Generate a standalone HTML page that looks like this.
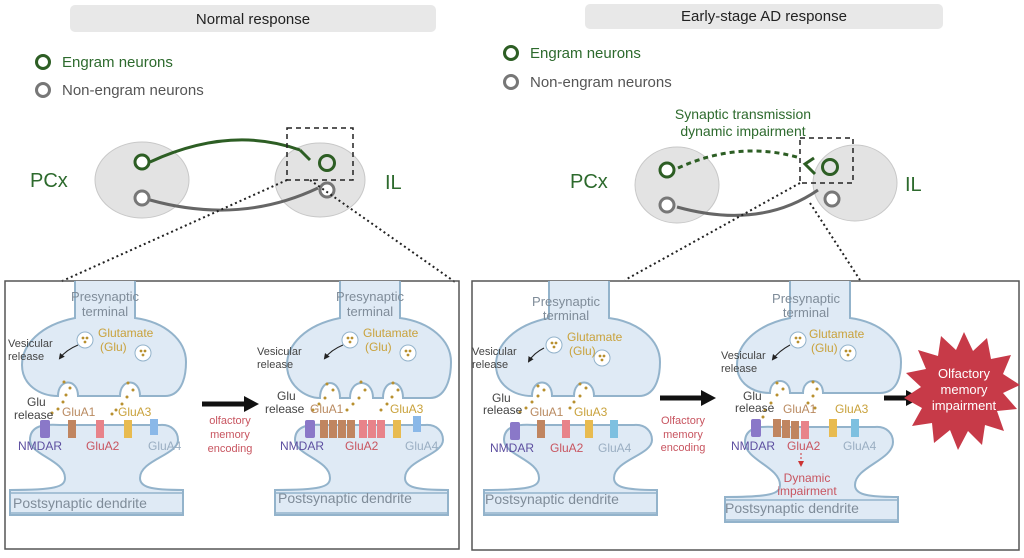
<!DOCTYPE html>
<html><head><meta charset="utf-8"><style>
html,body{margin:0;padding:0;background:#fff;}
svg{display:block;font-family:"Liberation Sans",sans-serif;}
.pre{fill:#dfeaf5;stroke:#93b3cb;stroke-width:2}
.band{fill:#dfeaf5;stroke:none}
.bl{stroke:#93b3cb;stroke-width:1.5;fill:none}
.t13{font-size:13px}
.gy{fill:#7f8c99}.gl{fill:#c9a23c}.dk{fill:#444}.pu{fill:#5d4fa0}.rd{fill:#c85560}.bg{fill:#9aaec2}.br{fill:#b98a60}
.dot{fill:#b8902f}
</style></head><body>
<svg width="1024" height="558" viewBox="0 0 1024 558" xmlns="http://www.w3.org/2000/svg">
<defs><marker id="ah" markerWidth="6" markerHeight="6" refX="4" refY="3" orient="auto"><path d="M0,0 L6,3 L0,6Z" fill="#222"/></marker>
<marker id="ar" markerWidth="6" markerHeight="6" refX="4" refY="3" orient="auto"><path d="M0,0 L6,3 L0,6Z" fill="#c33"/></marker></defs>

<!-- headers -->
<rect x="70" y="5" width="366" height="27" rx="5" fill="#e8e8e8"/>
<text x="253" y="24" text-anchor="middle" font-size="15" fill="#222">Normal response</text>
<rect x="585" y="4" width="358" height="25" rx="5" fill="#e8e8e8"/>
<text x="764" y="21" text-anchor="middle" font-size="15" fill="#222">Early-stage AD response</text>

<!-- legends -->
<circle cx="43" cy="62" r="6.5" fill="none" stroke="#2d5e24" stroke-width="3"/>
<text x="62" y="67" font-size="15" fill="#2d6a2d">Engram neurons</text>
<circle cx="43" cy="90" r="6.5" fill="none" stroke="#777" stroke-width="3"/>
<text x="62" y="95" font-size="15" fill="#555">Non-engram neurons</text>
<circle cx="511" cy="53" r="6.5" fill="none" stroke="#2d5e24" stroke-width="3"/>
<text x="530" y="58" font-size="15" fill="#2d6a2d">Engram neurons</text>
<circle cx="511" cy="82" r="6.5" fill="none" stroke="#777" stroke-width="3"/>
<text x="530" y="87" font-size="15" fill="#555">Non-engram neurons</text>

<!-- left brain -->
<ellipse cx="142" cy="180" rx="47" ry="38" fill="#e3e3e3" stroke="#c8c8c8"/>
<ellipse cx="320" cy="180" rx="45" ry="37" fill="#e3e3e3" stroke="#c8c8c8"/>
<text x="30" y="187" font-size="20" fill="#2d6a2d">PCx</text>
<text x="385" y="189" font-size="20" fill="#2d6a2d">IL</text>
<path d="M150,162 Q230,125 300,150" stroke="#2d5e24" stroke-width="3" fill="none"/>
<path d="M300,150 L310,160" stroke="#2d5e24" stroke-width="3"/>
<path d="M150,200 Q240,225 318,188" stroke="#666" stroke-width="3" fill="none"/>
<circle cx="142" cy="162" r="7" fill="#fff" stroke="#2d5e24" stroke-width="3"/>
<circle cx="142" cy="198" r="7" fill="#fff" stroke="#777" stroke-width="3"/>
<circle cx="327" cy="163" r="7.5" fill="none" stroke="#2d5e24" stroke-width="3"/>
<circle cx="327" cy="190" r="7" fill="#fff" stroke="#777" stroke-width="3"/>
<rect x="287" y="128" width="66" height="52" fill="none" stroke="#222" stroke-width="1.5" stroke-dasharray="5,4"/>
<path d="M287,180 L60,282" stroke="#222" stroke-width="2" stroke-dasharray="2,3"/>
<path d="M310,180 L455,282" stroke="#222" stroke-width="2" stroke-dasharray="2,3"/>

<!-- right brain -->
<ellipse cx="677" cy="185" rx="42" ry="38" fill="#e3e3e3" stroke="#c8c8c8"/>
<ellipse cx="855" cy="183" rx="42" ry="38" fill="#e3e3e3" stroke="#c8c8c8"/>
<text x="570" y="188" font-size="20" fill="#2d6a2d">PCx</text>
<text x="905" y="191" font-size="20" fill="#2d6a2d">IL</text>
<text x="743" y="119" text-anchor="middle" font-size="14" fill="#2d6a2d">Synaptic transmission</text>
<text x="743" y="136" text-anchor="middle" font-size="14" fill="#2d6a2d">dynamic impairment</text>
<path d="M678,168 Q740,140 800,158" stroke="#2d5e24" stroke-width="3" fill="none" stroke-dasharray="5,4"/>
<path d="M814,158 L805,164 L815,174" stroke="#2d5e24" stroke-width="3" fill="none"/>
<path d="M677,207 Q760,230 818,190" stroke="#666" stroke-width="3" fill="none"/>
<circle cx="667" cy="170" r="7" fill="#fff" stroke="#2d5e24" stroke-width="3"/>
<circle cx="667" cy="205" r="7" fill="#fff" stroke="#777" stroke-width="3"/>
<circle cx="830" cy="167" r="7.5" fill="none" stroke="#2d5e24" stroke-width="3"/>
<circle cx="832" cy="199" r="7" fill="#fff" stroke="#777" stroke-width="3"/>
<rect x="800" y="138" width="53" height="45" fill="none" stroke="#222" stroke-width="1.5" stroke-dasharray="5,4"/>
<path d="M800,183 L625,280" stroke="#222" stroke-width="2" stroke-dasharray="2,3"/>
<path d="M810,203 L860,280" stroke="#222" stroke-width="2" stroke-dasharray="2,3"/>

<!-- boxes -->
<rect x="5" y="281" width="454" height="268" fill="none" stroke="#555" stroke-width="1.5"/>
<rect x="472" y="281" width="547" height="269" fill="none" stroke="#555" stroke-width="1.5"/>

<!-- synapse 1 -->
<g>
<path class="pre" d="M75,281 L75,318 C40,325 22,345 22,365 C22,385 40,396 58,396 C58,378 78,378 78,396 L120,396 C120,378 140,378 140,396 L165,396 C180,396 186,380 186,362 C186,340 165,322 135,318 L135,281"/>
<path class="pre" d="M30,440 C30,425 45,424 60,425 L160,425 C172,424 178,432 178,440 C178,455 140,460 140,478 C140,487 150,490 183,490 L183,515 L10,515 L10,490 C55,490 65,487 65,478 C65,460 30,455 30,440 Z"/>
<path class="bl" d="M10,493 L183,493 M10,513 L183,513"/>
<circle cx="85" cy="340" r="8" fill="#fff" stroke="#93b3cb"/><circle cx="143" cy="353" r="8" fill="#fff" stroke="#93b3cb"/>
<circle class="dot" cx="83" cy="338" r="1.4"/><circle class="dot" cx="87" cy="338" r="1.4"/><circle class="dot" cx="85" cy="342" r="1.4"/>
<circle class="dot" cx="141" cy="351" r="1.4"/><circle class="dot" cx="145" cy="351" r="1.4"/><circle class="dot" cx="143" cy="355" r="1.4"/>
<g class="dot"><circle cx="64" cy="382" r="1.5"/><circle cx="70" cy="388" r="1.5"/><circle cx="66" cy="395" r="1.5"/><circle cx="63" cy="402" r="1.5"/><circle cx="58" cy="409" r="1.5"/><circle cx="52" cy="413" r="1.5"/>
<circle cx="128" cy="383" r="1.5"/><circle cx="133" cy="390" r="1.5"/><circle cx="127" cy="397" r="1.5"/><circle cx="122" cy="404" r="1.5"/><circle cx="116" cy="410" r="1.5"/><circle cx="112" cy="414" r="1.5"/></g>
<rect x="40" y="420" width="10" height="18" rx="2" fill="#8a78c8"/>
<rect x="68" y="420" width="8" height="18" fill="#c08560"/>
<rect x="96" y="420" width="8" height="18" fill="#e8838a"/>
<rect x="124" y="420" width="8" height="18" fill="#e8bb50"/>
<rect x="150" y="419" width="8" height="16" fill="#8ab8e8"/>
<text class="t13 gy" x="105" y="301" text-anchor="middle">Presynaptic</text>
<text class="t13 gy" x="105" y="316" text-anchor="middle">terminal</text>
<text x="98" y="337" font-size="12" class="gl">Glutamate</text><text x="100" y="351" font-size="12" class="gl">(Glu)</text>
<text x="8" y="347" font-size="11" class="dk">Vesicular</text><text x="8" y="360" font-size="11" class="dk">release</text>
<path d="M78,345 Q66,350 60,358" stroke="#222" stroke-width="1" fill="none" marker-end="url(#ah)"/>
<text x="27" y="406" font-size="12" class="dk">Glu</text><text x="14" y="419" font-size="12" class="dk">release</text>
<text x="62" y="416" font-size="12" class="br">GluA1</text><text x="118" y="416" font-size="12" class="gl">GluA3</text>
<text x="18" y="450" font-size="12" class="pu">NMDAR</text><text x="86" y="450" font-size="12" class="rd">GluA2</text><text x="148" y="450" font-size="12" class="bg">GluA4</text>
<text x="13" y="508" font-size="14" class="gy">Postsynaptic dendrite</text>
</g>

<!-- arrow 1 -->
<path d="M202,404 L246,404" stroke="#111" stroke-width="5"/><path d="M244,396 L259,404 L244,412Z" fill="#111"/>
<text x="230" y="424" text-anchor="middle" font-size="11" class="rd">olfactory</text>
<text x="230" y="438" text-anchor="middle" font-size="11" class="rd">memory</text>
<text x="230" y="452" text-anchor="middle" font-size="11" class="rd">encoding</text>

<!-- synapse 2 -->
<g transform="translate(265,0)">
<path class="pre" d="M75,281 L75,318 C40,325 22,345 22,365 C22,385 40,398 55,398 C55,378 75,378 75,398 L85,398 C85,378 108,378 108,398 L118,398 C118,378 138,378 138,398 L165,398 C180,398 186,380 186,362 C186,340 165,322 135,318 L135,281"/>
<path class="pre" d="M30,440 C30,425 45,424 60,425 L160,425 C172,424 178,432 178,440 C178,455 140,460 140,478 C140,487 150,490 183,490 L183,515 L10,515 L10,490 C55,490 65,487 65,478 C65,460 30,455 30,440 Z"/>
<path class="bl" d="M10,493 L183,493 M10,513 L183,513"/>
<circle cx="85" cy="340" r="8" fill="#fff" stroke="#93b3cb"/><circle cx="143" cy="353" r="8" fill="#fff" stroke="#93b3cb"/>
<circle class="dot" cx="83" cy="338" r="1.4"/><circle class="dot" cx="87" cy="338" r="1.4"/><circle class="dot" cx="85" cy="342" r="1.4"/>
<circle class="dot" cx="141" cy="351" r="1.4"/><circle class="dot" cx="145" cy="351" r="1.4"/><circle class="dot" cx="143" cy="355" r="1.4"/>
<g class="dot"><circle cx="62" cy="384" r="1.5"/><circle cx="68" cy="390" r="1.5"/><circle cx="60" cy="398" r="1.5"/><circle cx="54" cy="404" r="1.5"/><circle cx="48" cy="410" r="1.5"/>
<circle cx="96" cy="382" r="1.5"/><circle cx="100" cy="390" r="1.5"/><circle cx="94" cy="398" r="1.5"/><circle cx="88" cy="404" r="1.5"/><circle cx="82" cy="410" r="1.5"/>
<circle cx="128" cy="383" r="1.5"/><circle cx="133" cy="390" r="1.5"/><circle cx="127" cy="397" r="1.5"/><circle cx="122" cy="404" r="1.5"/><circle cx="116" cy="410" r="1.5"/></g>
<rect x="40" y="420" width="10" height="18" rx="2" fill="#8a78c8"/>
<rect x="55" y="420" width="8" height="18" fill="#c08560"/><rect x="64" y="420" width="8" height="18" fill="#c08560"/><rect x="73" y="420" width="8" height="18" fill="#c08560"/><rect x="82" y="420" width="8" height="18" fill="#c08560"/>
<rect x="94" y="420" width="8" height="18" fill="#e8838a"/><rect x="103" y="420" width="8" height="18" fill="#e8838a"/><rect x="112" y="420" width="8" height="18" fill="#e8838a"/>
<rect x="128" y="420" width="8" height="18" fill="#e8bb50"/>
<rect x="148" y="416" width="8" height="16" fill="#8ab8e8"/>
<text class="t13 gy" x="105" y="301" text-anchor="middle">Presynaptic</text>
<text class="t13 gy" x="105" y="316" text-anchor="middle">terminal</text>
<text x="98" y="337" font-size="12" class="gl">Glutamate</text><text x="100" y="351" font-size="12" class="gl">(Glu)</text>
<text x="-8" y="355" font-size="11" class="dk">Vesicular</text><text x="-8" y="368" font-size="11" class="dk">release</text>
<path d="M78,345 Q66,350 60,358" stroke="#222" stroke-width="1" fill="none" marker-end="url(#ah)"/>
<text x="12" y="400" font-size="12" class="dk">Glu</text><text x="0" y="413" font-size="12" class="dk">release</text>
<text x="45" y="413" font-size="12" class="br">GluA1</text><text x="125" y="413" font-size="12" class="gl">GluA3</text>
<text x="15" y="450" font-size="12" class="pu">NMDAR</text><text x="80" y="450" font-size="12" class="rd">GluA2</text><text x="140" y="450" font-size="12" class="bg">GluA4</text>
<text x="13" y="503" font-size="14" class="gy">Postsynaptic dendrite</text>
</g>

<!-- synapse 3 -->
<g transform="translate(474,0)">
<path class="pre" d="M75,281 L75,318 C40,325 22,345 22,365 C22,385 40,396 58,396 C58,378 78,378 78,396 L100,396 C100,378 120,378 120,396 L165,396 C180,396 186,380 186,362 C186,340 165,322 135,318 L135,281"/>
<path class="pre" d="M30,440 C30,425 45,424 60,425 L160,425 C172,424 178,432 178,440 C178,455 140,460 140,478 C140,487 150,490 183,490 L183,515 L10,515 L10,490 C55,490 65,487 65,478 C65,460 30,455 30,440 Z"/>
<path class="bl" d="M10,493 L183,493 M10,513 L183,513"/>
<circle cx="80" cy="345" r="8" fill="#fff" stroke="#93b3cb"/><circle cx="128" cy="358" r="8" fill="#fff" stroke="#93b3cb"/>
<circle class="dot" cx="78" cy="343" r="1.4"/><circle class="dot" cx="82" cy="343" r="1.4"/><circle class="dot" cx="80" cy="347" r="1.4"/>
<circle class="dot" cx="126" cy="356" r="1.4"/><circle class="dot" cx="130" cy="356" r="1.4"/><circle class="dot" cx="128" cy="360" r="1.4"/>
<g class="dot"><circle cx="64" cy="386" r="1.5"/><circle cx="70" cy="390" r="1.5"/><circle cx="64" cy="396" r="1.5"/><circle cx="58" cy="402" r="1.5"/><circle cx="52" cy="408" r="1.5"/><circle cx="46" cy="412" r="1.5"/>
<circle cx="106" cy="384" r="1.5"/><circle cx="112" cy="388" r="1.5"/><circle cx="106" cy="396" r="1.5"/><circle cx="100" cy="402" r="1.5"/><circle cx="96" cy="408" r="1.5"/></g>
<rect x="36" y="422" width="10" height="18" rx="2" fill="#8a78c8"/>
<rect x="63" y="420" width="8" height="18" fill="#c08560"/>
<rect x="88" y="420" width="8" height="18" fill="#e8838a"/>
<rect x="111" y="420" width="8" height="18" fill="#e8bb50"/>
<rect x="136" y="420" width="8" height="18" fill="#7ec0e0"/>
<text class="t13 gy" x="92" y="306" text-anchor="middle">Presynaptic</text>
<text class="t13 gy" x="92" y="320" text-anchor="middle">terminal</text>
<text x="93" y="341" font-size="12" class="gl">Glutamate</text><text x="95" y="355" font-size="12" class="gl">(Glu)</text>
<text x="-2" y="355" font-size="11" class="dk">Vesicular</text><text x="-2" y="368" font-size="11" class="dk">release</text>
<path d="M70,348 Q60,353 55,361" stroke="#222" stroke-width="1" fill="none" marker-end="url(#ah)"/>
<text x="18" y="402" font-size="12" class="dk">Glu</text><text x="9" y="414" font-size="12" class="dk">release</text>
<text x="56" y="416" font-size="12" class="br">GluA1</text><text x="100" y="416" font-size="12" class="gl">GluA3</text>
<text x="16" y="452" font-size="12" class="pu">NMDAR</text><text x="76" y="452" font-size="12" class="rd">GluA2</text><text x="124" y="452" font-size="12" class="bg">GluA4</text>
<text x="11" y="504" font-size="14" class="gy">Postsynaptic dendrite</text>
</g>

<!-- arrow 2 -->
<path d="M660,398 L703,398" stroke="#111" stroke-width="5"/><path d="M701,390 L716,398 L701,406Z" fill="#111"/>
<text x="683" y="424" text-anchor="middle" font-size="11" class="rd">Olfactory</text>
<text x="683" y="438" text-anchor="middle" font-size="11" class="rd">memory</text>
<text x="683" y="451" text-anchor="middle" font-size="11" class="rd">encoding</text>

<!-- synapse 4 -->
<g transform="translate(715,5)">
<path class="pre" d="M75,276 L75,313 C40,320 22,340 22,360 C22,380 40,388 55,388 C55,372 75,372 75,388 L88,388 C88,372 108,372 108,388 L165,388 C180,388 186,375 186,357 C186,335 165,317 135,313 L135,276"/>
<path class="pre" d="M30,437 C30,422 45,421 60,422 L160,422 C172,421 178,429 178,437 C178,455 140,462 140,480 C140,489 150,492 183,492 L183,517 L10,517 L10,492 C55,492 65,489 65,480 C65,462 30,455 30,437 Z"/>
<path class="bl" d="M10,495 L183,495 M10,515 L183,515"/>
<circle cx="83" cy="335" r="8" fill="#fff" stroke="#93b3cb"/><circle cx="133" cy="348" r="8" fill="#fff" stroke="#93b3cb"/>
<circle class="dot" cx="81" cy="333" r="1.4"/><circle class="dot" cx="85" cy="333" r="1.4"/><circle class="dot" cx="83" cy="337" r="1.4"/>
<circle class="dot" cx="131" cy="346" r="1.4"/><circle class="dot" cx="135" cy="346" r="1.4"/><circle class="dot" cx="133" cy="350" r="1.4"/>
<g class="dot"><circle cx="62" cy="378" r="1.5"/><circle cx="68" cy="384" r="1.5"/><circle cx="62" cy="390" r="1.5"/><circle cx="56" cy="398" r="1.5"/><circle cx="50" cy="405" r="1.5"/><circle cx="48" cy="412" r="1.5"/>
<circle cx="98" cy="377" r="1.5"/><circle cx="102" cy="384" r="1.5"/><circle cx="98" cy="391" r="1.5"/><circle cx="93" cy="398" r="1.5"/><circle cx="100" cy="403" r="1.5"/></g>
<rect x="36" y="414" width="10" height="18" rx="2" fill="#8a78c8"/>
<rect x="58" y="414" width="8" height="18" fill="#c08560"/><rect x="67" y="415" width="8" height="18" fill="#c08560"/><rect x="76" y="416" width="8" height="18" fill="#c08560"/>
<rect x="86" y="416" width="8" height="18" fill="#e8838a"/>
<rect x="114" y="414" width="8" height="18" fill="#e8bb50"/>
<rect x="136" y="414" width="8" height="18" fill="#7ec0e0"/>
<text class="t13 gy" x="91" y="298" text-anchor="middle">Presynaptic</text>
<text class="t13 gy" x="91" y="312" text-anchor="middle">terminal</text>
<text x="94" y="333" font-size="12" class="gl">Glutamate</text><text x="96" y="347" font-size="12" class="gl">(Glu)</text>
<text x="6" y="354" font-size="11" class="dk">Vesicular</text><text x="6" y="367" font-size="11" class="dk">release</text>
<path d="M75,340 Q64,346 58,354" stroke="#222" stroke-width="1" fill="none" marker-end="url(#ah)"/>
<text x="28" y="395" font-size="12" class="dk">Glu</text><text x="20" y="407" font-size="12" class="dk">release</text>
<text x="68" y="408" font-size="12" class="br">GluA1</text><text x="120" y="408" font-size="12" class="gl">GluA3</text>
<text x="16" y="445" font-size="12" class="pu">NMDAR</text><text x="72" y="445" font-size="12" class="rd">GluA2</text><text x="128" y="445" font-size="12" class="bg">GluA4</text>
<path d="M86,448 L86,460" stroke="#c33" stroke-width="1" stroke-dasharray="2,2" marker-end="url(#ar)"/>
<text x="92" y="477" text-anchor="middle" font-size="12" class="rd">Dynamic</text>
<text x="92" y="490" text-anchor="middle" font-size="12" class="rd">impairment</text>
<text x="10" y="508" font-size="14" class="gy">Postsynaptic dendrite</text>
</g>

<!-- arrow 3 -->
<path d="M884,398 L908,398" stroke="#111" stroke-width="5"/><path d="M906,390 L921,398 L906,406Z" fill="#111"/>

<!-- star -->
<polygon fill="#c73a48" points="1020,385 1003,393 1017,409 997,411 1004,431 985,425 982,445 968,431 958,450 950,430 934,443 932,423 912,426 922,408 904,398 921,387 906,373 926,369 918,350 938,356 941,336 956,350 964,332 973,351 987,338 991,359 1011,355 1003,374"/>
<text x="964" y="378" text-anchor="middle" font-size="13" fill="#fff">Olfactory</text>
<text x="964" y="394" text-anchor="middle" font-size="13" fill="#fff">memory</text>
<text x="964" y="410" text-anchor="middle" font-size="13" fill="#fff">impairment</text>
</svg>
</body></html>
